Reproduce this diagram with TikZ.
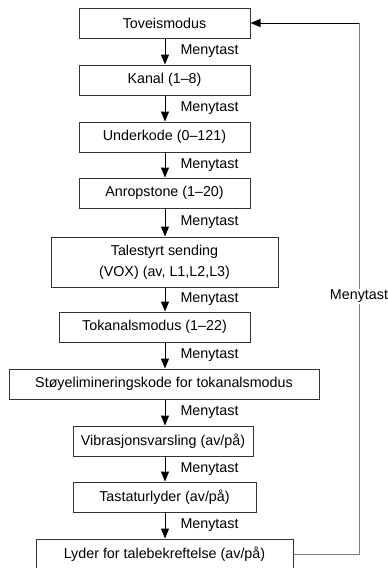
\documentclass[tikz,border=0pt]{standalone}
\usepackage{fontspec}
\setmainfont{Liberation Sans}
\usetikzlibrary{arrows.meta}
\begin{document}
\begin{tikzpicture}[x=1pt,y=-1pt,
  box/.style={draw=black!80,line width=1pt,minimum height=30pt,inner sep=0pt,
    align=center,font=\fontsize{14.3}{21}\selectfont},
  tip/.style={-{Triangle[width=8pt,length=10pt]},line width=1pt},
  menu/.style={anchor=west,inner sep=0pt,xshift=15pt,font=\fontsize{14.3}{17}\selectfont}]
  \useasboundingbox (0,0) rectangle (388,568);
  \coordinate (col) at (165,0);
  \coordinate (loop) at (359,0);
  % menu steps
  \node[box,minimum width=171pt] (tov) at (164.5,23) {Toveismodus};
  \node[box,minimum width=171pt] (kanal) at (164.5,80) {Kanal (1–8)};
  \node[box,minimum width=171pt] (under) at (164.5,137) {Underkode (0–121)};
  \node[box,minimum width=171pt] (anrop) at (164.5,193) {Anropstone (1–20)};
  \node[box,minimum width=227pt,minimum height=50pt] (vox) at (164.5,262)
    {Talestyrt sending\\(VOX) (av, L1,L2,L3)};
  \node[box,minimum width=191pt] (tokanal) at (154.5,327) {Tokanalsmodus (1–22)};
  \node[box,minimum width=310pt] (stoy) at (164,384) {Støyelimineringskode for tokanalsmodus};
  \node[box,minimum width=180pt] (vibra) at (163,441) {Vibrasjonsvarsling (av/på)};
  \node[box,minimum width=183pt] (tast) at (164.5,497) {Tastaturlyder (av/på)};
  \node[box,minimum width=257pt] (lyder) at (164.5,554) {Lyder for talebekreftelse (av/på)};
  % Menytast between the steps
  \foreach \a/\b in {tov/kanal,kanal/under,under/anrop,anrop/vox,vox/tokanal,
                     tokanal/stoy,stoy/vibra,vibra/tast,tast/lyder}
    \draw[tip] (\a.south -| col) -- (\b.north -| col)
      node[menu,midway] {Menytast};
  % back to the top
  \draw[black!50,line width=1pt] (lyder.east) -- (lyder.east -| loop) -- (tov.east -| loop)
    node[pos=0.485,fill=white,inner sep=1pt,font=\fontsize{14.3}{17}\selectfont,text=black] {Menytast};
  \draw[tip] (tov.east -| loop) -- (tov.east);
\end{tikzpicture}
\end{document}
